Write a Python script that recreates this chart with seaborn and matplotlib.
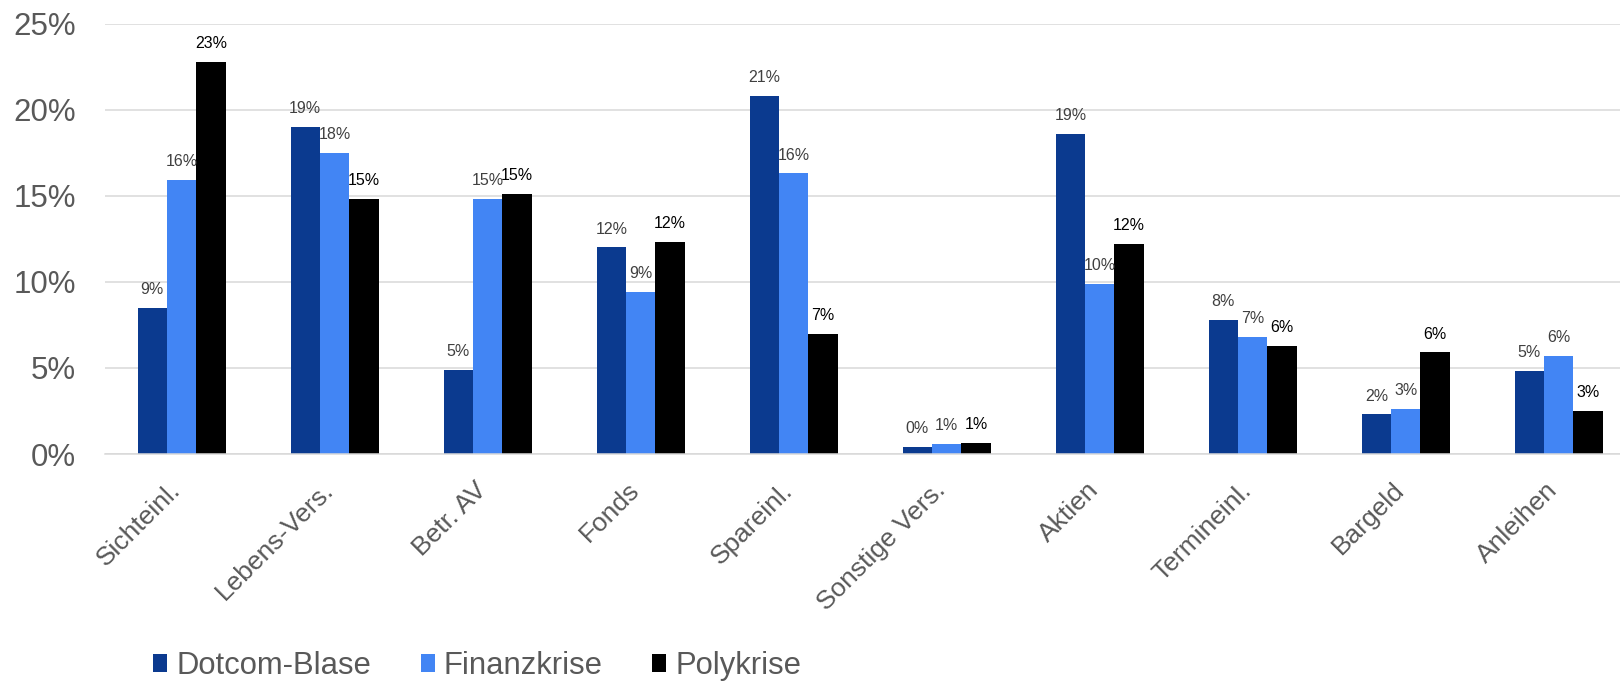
import matplotlib
matplotlib.use("Agg")
import matplotlib.pyplot as plt
import seaborn as sns
import pandas as pd
from matplotlib.patches import Patch
from matplotlib.transforms import ScaledTranslation

categories = ["Sichteinl.", "Lebens-Vers.", "Betr. AV", "Fonds", "Spareinl.",
              "Sonstige Vers.", "Aktien", "Termineinl.", "Bargeld", "Anleihen"]
series_names = ["Dotcom-Blase", "Finanzkrise", "Polykrise"]
dotcom = [8.5, 19.0, 4.9, 12.0, 20.8, 0.4, 18.6, 7.8, 2.3, 4.8]
finanz = [15.9, 17.5, 14.8, 9.4, 16.3, 0.6, 9.9, 6.8, 2.6, 5.7]
poly = [22.8, 14.8, 15.1, 12.3, 7.0, 0.65, 12.2, 6.3, 5.9, 2.5]
yticks = [0, 5, 10, 15, 20, 25]

colors = ["#0B3A8F", "#4285F4", "#000000"]
label_colors = ["#404040", "#404040", "#000000"]

rows = []
for name, vals in zip(series_names, [dotcom, finanz, poly]):
    for c, v in zip(categories, vals):
        rows.append({"Kategorie": c, "Serie": name, "Wert": v})
df = pd.DataFrame(rows)

sns.set_theme(style="white")
regular = ["Liberation Sans", "DejaVu Sans"]
plt.rcParams["font.family"] = regular

fig = plt.figure(figsize=(16.2, 6.82), dpi=100)
ax = fig.add_axes([105 / 1620, 1 - 454 / 682, 1 - 105 / 1620, (454 - 23.7) / 682])

sns.barplot(data=df, x="Kategorie", y="Wert", hue="Serie", order=categories,
            hue_order=series_names, palette=colors, width=0.575, ax=ax,
            legend=False, saturation=1, edgecolor="none", linewidth=0)

for i, cont in enumerate(ax.containers):
    for bar, v in zip(cont, [dotcom, finanz, poly][i]):
        ax.annotate(f"{int(v + 0.5)}%",
                    (bar.get_x() + bar.get_width() / 2, bar.get_height()),
                    xytext=(0, 10), textcoords="offset points",
                    ha="center", va="baseline", fontsize=11.5,
                    color=label_colors[i])

ax.set_ylim(0, 25)
ax.set_xlim(-0.5, 9.40)
ax.set_yticks(yticks)
ax.set_yticklabels([f"{t}%" for t in yticks], fontsize=22.5, color="#595959")
ax.set_xticks(range(len(categories)))
ax.set_xticklabels(categories, rotation=45, ha="right", va="baseline",
                   rotation_mode="anchor", fontsize=19, color="#595959")
off = ScaledTranslation(3 / 100, 0, fig.dpi_scale_trans)
for lab in ax.get_xticklabels():
    lab.set_transform(lab.get_transform() + off)
ax.tick_params(axis="y", length=0, pad=21)
ax.tick_params(axis="x", length=0, pad=27)
ax.set_xlabel("")
ax.set_ylabel("")
ax.grid(axis="y", color="#D9D9D9", linewidth=1.1)
ax.set_axisbelow(True)
for s in ["top", "right", "left"]:
    ax.spines[s].set_visible(False)
ax.spines["bottom"].set_color("#D9D9D9")
ax.spines["bottom"].set_linewidth(1.1)

handles = [Patch(facecolor=c, edgecolor="none") for c in colors]
fig.legend(handles, series_names, loc="center left",
           bbox_to_anchor=(153 / 1620, 1 - 666 / 682), ncol=3, frameon=False,
           prop={"size": 22.3}, labelcolor="#595959",
           handlelength=0.45, handleheight=0.55, handletextpad=0.3,
           columnspacing=1.6, borderpad=0, borderaxespad=0)

fig.savefig("out.png", dpi=100)
